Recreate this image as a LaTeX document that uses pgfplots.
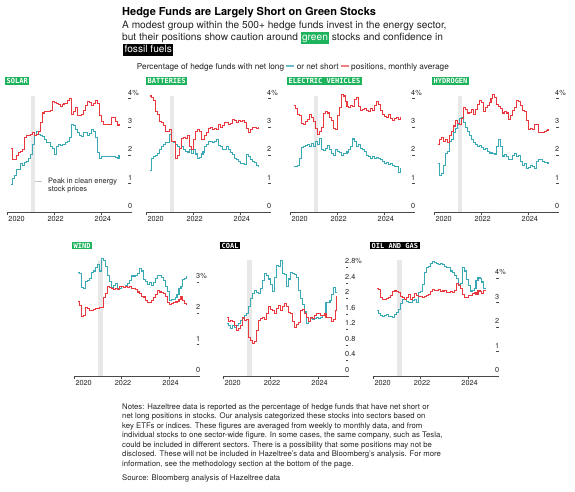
\documentclass[border=0pt]{standalone}
\usepackage{fontspec}
\setmainfont{TeX Gyre Heros}
\newfontfamily\labfont{DejaVu Sans Mono}
\usepackage{pgfplots}
\pgfplotsset{compat=1.18}
\usepackage{pgfplotstable}

\definecolor{bgreen}{HTML}{1DB35C}
\definecolor{tealc}{HTML}{3AA9B6}
\definecolor{redc}{HTML}{E8383D}
\definecolor{axgray}{HTML}{4A4A4A}
\definecolor{bandgray}{HTML}{E8E8E8}
\definecolor{txt}{HTML}{222222}

\newcommand{\fs}[2]{\fontsize{#1}{#2}\selectfont}
\newcommand{\hl}[2]{{\setlength\fboxsep{1.2pt}\colorbox{#1}{\textcolor{white}{\vphantom{Agy}#2}}}}

\pgfplotstableread{
m long short
2 0.96 2.26
3 1.2 1.85
4 1.3 1.85
5 1.5 2.0
6 1.5 2.1
7 1.73 2.15
8 1.66 2.2
9 1.75 2.65
10 1.8 2.72
11 1.9 2.72
12 2.02 2.75
13 2.4 2.8
14 2.7 2.7
15 2.85 2.75
16 2.75 2.85
17 2.72 3.15
18 2.68 3.5
19 2.55 3.55
20 2.45 3.55
21 2.44 3.55
22 2.32 3.6
23 2.26 3.92
24 2.02 3.88
25 2.3 3.85
26 2.38 3.8
27 2.35 3.72
28 2.38 3.8
29 2.4 3.82
30 2.45 3.85
31 2.5 3.95
32 2.62 4.02
33 3.09 3.45
34 3.05 3.55
35 2.9 3.7
36 2.8 3.4
37 2.72 3.4
38 2.68 3.45
39 2.8 3.6
40 2.8 3.75
41 2.7 3.9
42 2.78 3.88
43 2.9 3.75
44 2.85 3.85
45 2.62 3.95
46 2.1 3.85
47 1.9 3.4
48 1.95 3.2
49 1.97 3.1
50 1.96 3.08
51 1.95 3.08
52 1.95 3.1
53 1.97 3.35
54 1.95 3.35
55 1.92 3.2
56 1.9 3.05
57 2.0 3.12
}\solartab

\pgfplotstableread{
m long short
2 1.48 4.1
3 1.9 4.05
4 1.95 3.95
5 2.0 3.55
6 2.08 3.45
7 2.2 3.2
8 2.3 3.15
9 2.38 3.05
10 2.44 2.85
11 2.44 2.85
12 2.75 2.92
13 2.5 2.5
14 2.45 2.5
15 2.38 1.9
16 2.32 2.0
17 2.26 2.26
18 2.3 2.6
19 2.2 2.65
20 2.15 2.6
21 2.12 2.7
22 2.2 2.3
23 2.08 2.2
24 2.2 2.55
25 2.05 2.85
26 1.9 2.9
27 1.92 2.85
28 2.05 2.56
29 2.12 2.56
30 2.3 2.7
31 2.4 2.8
32 2.5 2.95
33 2.5 3.0
34 2.45 2.92
35 2.5 2.95
36 2.56 2.9
37 2.35 3.1
38 2.3 2.98
39 2.2 3.05
40 2.2 3.15
41 2.3 3.15
42 2.2 3.1
43 2.1 3.12
44 2.02 3.28
45 1.9 3.22
46 1.85 3.18
47 1.78 3.25
48 1.72 3.2
49 1.72 3.22
50 1.68 3.15
51 2.02 2.95
52 1.95 2.8
53 1.85 2.9
54 1.8 2.98
55 1.75 3.0
56 1.65 2.95
57 1.6 3.0
}\battab

\pgfplotstableread{
m long short
2 1.61 3.76
3 1.6 3.65
4 1.65 3.45
5 1.9 3.4
6 2.28 3.13
7 2.3 3.1
8 2.35 3.2
9 2.4 3.28
10 2.3 3.43
11 2.42 3.35
12 2.3 3.2
13 2.5 2.95
14 2.38 2.75
15 2.6 2.85
16 2.22 3.0
17 2.16 3.49
18 2.25 3.55
19 2.34 3.5
20 2.2 3.35
21 2.06 3.25
22 2.0 2.95
23 2.22 2.92
24 2.15 3.4
25 2.1 3.7
26 2.0 4.16
27 2.06 4.1
28 2.08 3.92
29 2.12 3.73
30 2.2 3.7
31 2.3 3.78
32 2.58 3.73
33 2.5 3.98
34 2.3 4.04
35 2.4 3.73
36 2.25 3.6
37 2.2 3.62
38 2.15 3.65
39 2.0 3.6
40 1.95 3.55
41 1.9 3.65
42 1.95 3.6
43 1.9 3.75
44 1.92 3.92
45 1.9 3.8
46 1.85 3.6
47 1.8 3.43
48 1.72 3.37
49 1.76 3.35
50 1.68 3.43
51 1.7 3.31
52 1.65 3.25
53 1.62 3.3
54 1.62 3.35
55 1.4 3.28
56 1.55 3.35
}\evtab

\pgfplotstableread{
m long short
2 1.7 2.4
3 1.3 2.56
4 1.35 2.62
5 1.65 2.5
6 2.08 2.56
7 2.15 2.45
8 2.5 2.72
9 2.56 2.86
10 2.8 3.04
11 2.95 3.22
12 3.1 3.12
13 3.3 3.1
14 3.34 3.3
15 3.15 3.7
16 3.0 3.62
17 2.86 3.5
18 2.7 3.52
19 2.56 3.62
20 2.44 3.45
21 2.4 3.62
22 2.32 3.8
23 2.35 3.94
24 2.28 3.88
25 2.2 3.55
26 2.25 3.7
27 2.15 3.78
28 2.08 3.88
29 2.1 4.0
30 2.08 4.15
31 2.05 4.05
32 2.3 3.8
33 2.56 3.72
34 2.3 3.65
35 1.98 3.5
36 2.02 3.55
37 1.95 3.5
38 1.84 3.28
39 1.84 3.4
40 2.0 3.6
41 2.08 3.7
42 1.96 3.94
43 2.0 3.9
44 1.78 3.75
45 1.66 3.6
46 1.7 3.55
47 1.54 3.22
48 1.58 2.92
49 1.65 2.95
50 1.6 2.92
51 1.55 3.1
52 1.8 3.08
53 1.84 2.8
54 1.84 2.8
55 1.78 2.82
56 1.76 2.85
57 1.74 2.88
58 1.72 2.92
}\hydtab

\pgfplotstableread{
m long short
2 3.3 2.39
3 3.28 2.25
4 2.82 1.89
5 2.8 1.92
6 3.0 2.2
7 3.05 2.15
8 3.1 2.1
9 3.3 2.1
10 3.35 2.12
11 3.45 2.15
12 3.56 2.14
13 3.35 2.18
14 3.74 2.2
15 3.68 2.5
16 3.5 2.62
17 3.2 2.87
18 3.0 2.82
19 2.82 2.8
20 2.9 2.75
21 2.95 2.78
22 2.78 2.75
23 2.8 2.85
24 2.85 2.85
25 2.82 2.83
26 2.9 2.85
27 2.95 2.83
28 3.05 2.85
29 3.19 2.8
30 3.19 2.78
31 3.2 2.75
32 3.28 2.68
33 3.43 2.62
34 3.35 2.55
35 3.08 2.52
36 3.0 2.4
37 2.93 2.34
38 2.98 2.35
39 2.9 2.42
40 2.98 2.5
41 3.12 2.6
42 3.2 2.72
43 3.22 2.68
44 3.15 2.65
45 3.05 2.62
46 2.87 2.55
47 2.7 2.35
48 2.42 2.28
49 2.45 2.3
50 2.45 2.33
51 2.5 2.36
52 2.6 2.38
53 2.78 2.45
54 2.85 2.55
55 3.08 2.42
56 3.1 2.3
57 3.2 2.28
}\windtab

\pgfplotstableread{
m long short
2 1.35 1.52
3 1.3 1.4
4 1.22 1.42
5 1.3 1.4
6 1.25 1.3
7 1.3 1.18
8 1.35 1.22
9 1.42 1.3
10 1.48 1.5
11 1.55 1.42
12 1.6 1.45
13 1.78 1.0
14 2.0 0.92
15 2.12 0.85
16 2.2 0.88
17 2.16 1.18
18 2.12 1.44
19 2.25 1.48
20 2.47 1.52
21 2.64 1.45
22 2.6 1.6
23 2.5 1.78
24 2.35 1.72
25 2.17 1.69
26 2.55 1.62
27 2.85 1.75
28 2.82 1.82
29 2.98 1.7
30 2.65 1.78
31 2.62 1.87
32 2.3 1.8
33 2.5 1.64
34 2.68 1.62
35 2.65 1.4
36 2.62 1.26
37 2.55 1.32
38 2.2 1.38
39 2.0 1.69
40 1.85 1.72
41 1.65 1.62
42 1.35 1.52
43 1.4 1.4
44 1.48 1.5
45 1.45 1.48
46 1.48 1.55
47 1.52 1.6
48 1.48 1.6
49 1.5 1.55
50 1.55 1.55
51 1.62 1.6
52 1.9 1.5
53 1.9 1.52
54 1.95 1.5
55 2.1 1.4
56 2.28 1.45
57 2.15 1.7
57.5 2.15 2.05
}\coaltab

\pgfplotstableread{
m long short
2 2.7 3.6
3 2.55 3.55
4 2.48 3.2
5 2.45 3.12
6 2.48 3.15
7 2.5 3.17
8 2.45 3.2
9 2.45 3.28
10 2.39 3.45
11 2.52 3.48
12 2.6 3.45
13 2.73 3.4
14 2.95 3.27
15 3.14 3.2
16 3.14 3.15
17 3.05 3.2
18 3.0 3.34
19 3.02 3.15
20 3.08 3.2
21 3.14 3.38
22 3.0 3.3
23 3.41 3.25
24 3.45 3.25
25 3.75 3.2
26 4.23 3.25
27 4.43 3.3
28 4.5 3.35
29 4.6 3.45
30 4.7 3.55
31 4.65 3.52
32 4.6 3.5
33 4.55 3.55
34 4.6 3.45
35 4.55 3.48
36 4.5 3.52
37 4.43 3.4
38 4.43 3.42
39 4.3 3.45
40 4.25 3.4
41 4.1 3.5
42 4.0 3.8
43 3.75 3.7
44 3.8 3.6
45 4.43 3.35
46 4.3 3.2
47 3.96 3.2
48 3.7 3.28
49 3.48 3.3
50 3.52 3.38
51 3.6 3.42
52 3.9 3.35
53 4.02 3.5
54 3.98 3.45
55 3.85 3.38
56 3.6 3.52
57 3.6 3.5
}\oiltab

\pgfplotsset{
  panel/.style={
    scale only axis, height=116pt, width=125pt,
    xmin=2020, xmax=2025.3, ymin=0,
    anchor=south west, clip=false, axis on top,
    axis x line*=bottom, axis y line*=right,
    x axis line style={-, draw=axgray, line width=0.6pt},
    y axis line style={draw=none},
    tick align=outside, major tick length=3pt,
    xtick={2020,2022,2024},
    xticklabels={\makebox[0pt][l]{2020},2022,2024},
    xtick style={draw=axgray, line width=0.6pt},
    ytick style={draw=axgray, line width=0.7pt, xshift=-3.5pt},
    every tick label/.append style={font=\fs{7.3}{8}, text=txt},
    xticklabel style={inner sep=1.5pt, xshift=1.5pt},
    yticklabel style={anchor=base west, inner sep=0pt, xshift=-7pt, yshift=3.5pt},
    /pgf/number format/assume math mode=true,
  },
  lng/.style={const plot, tealc, line width=1.05pt},
  sht/.style={const plot, redc, line width=1.05pt},
  band/.style={draw=none, fill=bandgray},
}

\begin{document}
\begin{tikzpicture}
\useasboundingbox (0pt,0pt) rectangle (575pt,-492pt);

% ---------- header ----------
\node[anchor=base west, inner sep=0, text=black] at (122pt,-15.7pt) {\fs{11}{13}\bfseries Hedge Funds are Largely Short on Green Stocks};
\node[anchor=base west, inner sep=0, text=txt] at (122pt,-28.3pt) {\fs{10.15}{12}A modest group within the 500+ hedge funds invest in the energy sector,};
\node[anchor=base west, inner sep=0, text=txt] at (122pt,-40.7pt) {\fs{10.15}{12}but their positions show caution around \hl{bgreen}{green} stocks and confidence in};
\node[anchor=base west, inner sep=0, text=txt] at (123.2pt,-52.7pt) {\fs{10.15}{12}\hl{black}{fossil fuels}};
\node[anchor=base west, inner sep=0, text=txt] at (136.7pt,-69.3pt) {\fs{8.25}{10}Percentage of hedge funds with net long \textcolor{tealc!75}{\rule[0.6ex]{8pt}{1.3pt}} or net short \textcolor{redc!65}{\rule[0.6ex]{8pt}{1.3pt}} positions, monthly average};

% ---------- panel labels ----------
\tikzset{plab/.style={anchor=west, text=white, inner xsep=1.5pt, inner ysep=1.3pt, font=\labfont\bfseries\fs{7}{7}, text height=5.1pt, text depth=0pt}}
\node[plab, fill=bgreen] at (5pt,-81pt) {SOLAR};
\node[plab, fill=bgreen] at (146pt,-81pt) {BATTERIES};
\node[plab, fill=bgreen] at (287pt,-81pt) {ELECTRIC VEHICLES};
\node[plab, fill=bgreen] at (432pt,-81pt) {HYDROGEN};
\node[plab, fill=bgreen] at (72pt,-245.5pt) {WIND};
\node[plab, fill=black] at (220pt,-245.5pt) {COAL};
\node[plab, fill=black] at (370pt,-245.5pt) {OIL AND GAS};

% ---------- top row ----------
\begin{axis}[panel, at={(7pt,-212pt)}, ymax=4.1, ytick={0,1,2,3,4}, yticklabels={0,1,2,3,4\%}]
\addplot[band] coordinates {(2021.03,4.1) (2021.2,4.1)} \closedcycle;
\addplot[lng] table[x expr=2020+\thisrow{m}/12, y=long] {\solartab};
\addplot[sht] table[x expr=2020+\thisrow{m}/12, y=short] {\solartab};
\end{axis}

\begin{axis}[panel, at={(146pt,-212pt)}, ymax=4.1, ytick={0,1,2,3,4}, yticklabels={0,1,2,3,4\%}]
\addplot[band] coordinates {(2021.03,4.1) (2021.2,4.1)} \closedcycle;
\addplot[lng] table[x expr=2020+\thisrow{m}/12, y=long] {\battab};
\addplot[sht] table[x expr=2020+\thisrow{m}/12, y=short] {\battab};
\end{axis}

\begin{axis}[panel, at={(290pt,-212pt)}, ymax=4.1, ytick={0,1,2,3,4}, yticklabels={0,1,2,3,4\%}]
\addplot[band] coordinates {(2021.03,4.1) (2021.2,4.1)} \closedcycle;
\addplot[lng] table[x expr=2020+\thisrow{m}/12, y=long] {\evtab};
\addplot[sht] table[x expr=2020+\thisrow{m}/12, y=short] {\evtab};
\end{axis}

\begin{axis}[panel, at={(434pt,-212pt)}, ymax=4.1, ytick={0,1,2,3,4}, yticklabels={0,1,2,3,4\%}]
\addplot[band] coordinates {(2021.03,4.1) (2021.2,4.1)} \closedcycle;
\addplot[lng] table[x expr=2020+\thisrow{m}/12, y=long] {\hydtab};
\addplot[sht] table[x expr=2020+\thisrow{m}/12, y=short] {\hydtab};
\end{axis}

% annotation
\draw[black!22, line width=1pt] (35pt,-181pt) -- (42pt,-181pt);
\node[anchor=base west, inner sep=0, text=txt] at (48pt,-183pt) {\fs{7.4}{9}Peak in clean energy};
\node[anchor=base west, inner sep=0, text=txt] at (48pt,-191.5pt) {\fs{7.4}{9}stock prices};

% ---------- bottom row ----------
\begin{axis}[panel, width=126pt, at={(74pt,-376pt)}, ymax=3.7, ytick={0,1,2,3}, yticklabels={0,1,2,3\%}]
\addplot[band] coordinates {(2021.03,3.7) (2021.2,3.7)} \closedcycle;
\addplot[lng] table[x expr=2020+\thisrow{m}/12, y=long] {\windtab};
\addplot[sht] table[x expr=2020+\thisrow{m}/12, y=short] {\windtab};
\end{axis}

\begin{axis}[panel, width=126pt, at={(223pt,-376pt)}, ymax=2.99, ytick={0,0.4,0.8,1.2,1.6,2,2.4,2.8}, yticklabels={0,0.4,0.8,1.2,1.6,2,2.4,2.8\%}]
\addplot[band] coordinates {(2021.03,2.99) (2021.2,2.99)} \closedcycle;
\addplot[lng] table[x expr=2020+\thisrow{m}/12, y=long] {\coaltab};
\addplot[sht] table[x expr=2020+\thisrow{m}/12, y=short] {\coaltab};
\end{axis}

\begin{axis}[panel, width=126pt, at={(373pt,-376pt)}, ymax=4.75, ytick={0,1,2,3,4}, yticklabels={0,1,2,3,4\%}]
\addplot[band] coordinates {(2021.03,4.75) (2021.2,4.75)} \closedcycle;
\addplot[lng] table[x expr=2020+\thisrow{m}/12, y=long] {\oiltab};
\addplot[sht] table[x expr=2020+\thisrow{m}/12, y=short] {\oiltab};
\end{axis}

% ---------- notes ----------
\tikzset{nt/.style={anchor=base west, inner sep=0, text=txt, font=\fs{7.75}{9}}}
\node[nt] at (122pt,-409pt) {Notes: Hazeltree data is reported as the percentage of hedge funds that have net short or};
\node[nt] at (122pt,-418.5pt) {net long positions in stocks. Our analysis categorized these stocks into sectors based on};
\node[nt] at (122pt,-428pt) {key ETFs or indices. These figures are averaged from weekly to monthly data, and from};
\node[nt] at (122pt,-437.5pt) {individual stocks to one sector-wide figure. In some cases, the same company, such as Tesla,};
\node[nt] at (122pt,-447pt) {could be included in different sectors. There is a possibility that some positions may not be};
\node[nt] at (122pt,-456.5pt) {disclosed. These will not be included in Hazeltree's data and Bloomberg's analysis. For more};
\node[nt] at (122pt,-466pt) {information, see the methodology section at the bottom of the page.};
\node[nt] at (122pt,-480pt) {Source: Bloomberg analysis of Hazeltree data};
\end{tikzpicture}
\end{document}
